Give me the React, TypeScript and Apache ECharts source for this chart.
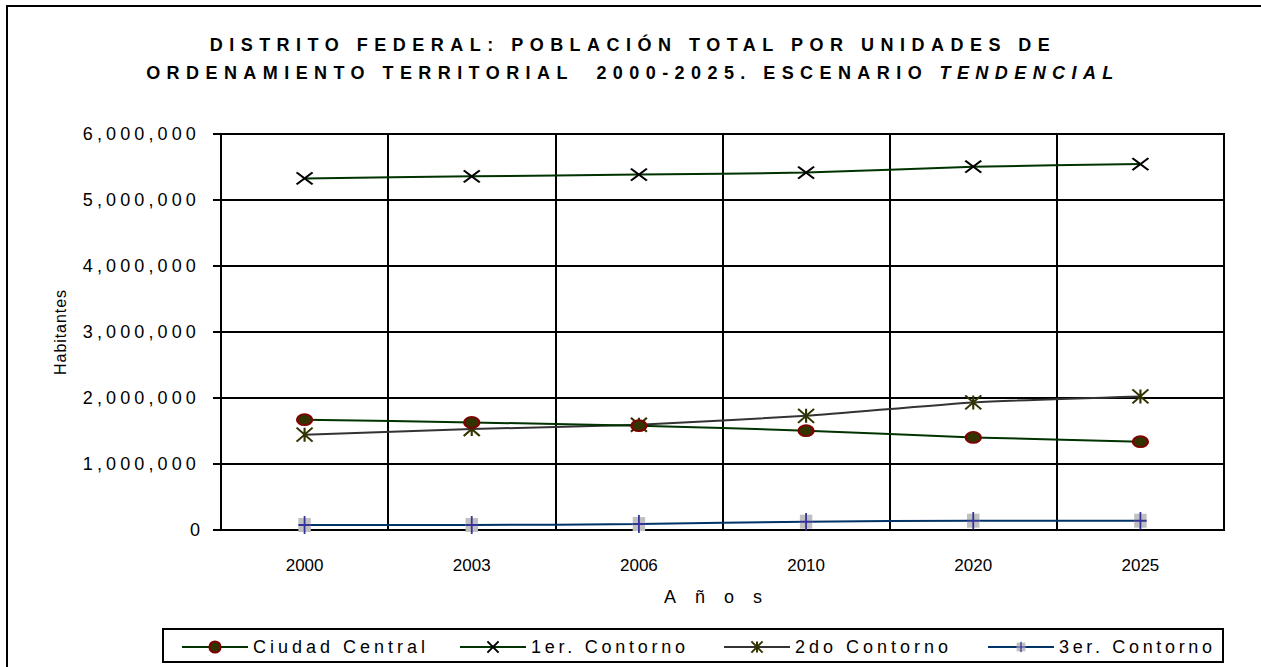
import React, { useEffect, useRef } from 'react';
import * as echarts from 'echarts';

// ---------- data ----------
const years = ['2000', '2003', '2006', '2010', '2020', '2025'];
const ciudadCentral = [1671000, 1630000, 1580000, 1505000, 1403000, 1338000];
const primerContorno = [5327000, 5358000, 5385000, 5415000, 5505000, 5545000];
const segundoContorno = [1444000, 1530000, 1595000, 1730000, 1933000, 2024000];
const tercerContorno = [76000, 76000, 90000, 126000, 141000, 141000];
const seriesNames = ['Ciudad Central', '1er. Contorno', '2do Contorno', '3er. Contorno'];
const yMin = 0;
const yMax = 6000000;
const yInterval = 1000000;
const yTickLabels = ['0', '1,000,000', '2,000,000', '3,000,000', '4,000,000', '5,000,000', '6,000,000'];
const titleLine1 = 'DISTRITO FEDERAL: POBLACIÓN TOTAL POR UNIDADES DE';
const titleLine2 = 'ORDENAMIENTO TERRITORIAL  2000-2025. ESCENARIO ';
const titleItalic = 'TENDENCIAL';
const xAxisName = 'Años';
const yAxisName = 'Habitantes';

// ---------- styling ----------
const FONT = '"Liberation Sans", Arial, sans-serif';
const fullLine2 = titleLine2 + titleItalic;

// visible widths (px) that each text is spread to, as in the reference
const FIT: Record<string, number> = {
  [titleLine1]: 840,
  [fullLine2]: 967,
  [xAxisName]: 98,
  [yAxisName]: 85,
  'Ciudad Central': 172,
  '1er. Contorno': 154,
  '2do Contorno': 153,
  '3er. Contorno': 153,
};
yTickLabels.forEach((l) => { if (l.length > 1) FIT[l] = 113; });

const ellipseSymbol = 'path://M0,5.5A7.5,5.5 0 1 1 15,5.5A7.5,5.5 0 1 1 0,5.5Z';
const xSymbol = 'path://M0,0L16,12M16,0L0,12';
const starSymbol = 'path://M0,0L16,14M16,0L0,14M8,0L8,14';
const plusSvg =
  "<svg xmlns='http://www.w3.org/2000/svg' width='16' height='18' viewBox='0 0 16 18'>" +
  "<rect x='1' y='2' width='14' height='14' fill='#c0c0c0'/>" +
  "<path d='M8 0V18M1 9H15' stroke='#333399' stroke-width='2'/></svg>";
const plusSymbol = 'image://data:image/svg+xml;charset=utf-8,' + encodeURIComponent(plusSvg);

function adjustTexts(root: HTMLElement) {
  root.querySelectorAll('text').forEach((node) => {
    const t = node as SVGTextElement;
    const content = t.textContent || '';
    if (content === fullLine2 && !t.querySelector('tspan.it')) {
      t.textContent = '';
      t.appendChild(document.createTextNode(titleLine2));
      const sp = document.createElementNS('http://www.w3.org/2000/svg', 'tspan');
      sp.setAttribute('class', 'it');
      sp.setAttribute('font-style', 'italic');
      (sp as any).style.fontStyle = 'italic';
      sp.textContent = titleItalic;
      t.appendChild(sp);
    }
    const target = FIT[content];
    if (target == null) return;
    t.style.whiteSpace = 'pre';
    t.style.letterSpacing = '0px';
    const nat = t.getComputedTextLength();
    const n = Array.from(content).length;
    if (n < 2) return;
    const s = (target - nat) / (n - 1);
    t.style.letterSpacing = s.toFixed(2) + 'px';
  });
}

function makeLegend(name: string, left: number) {
  return {
    data: [name],
    left,
    top: 638,
    padding: 0,
    itemWidth: 66,
    itemHeight: 14,
    itemGap: 0,
    selectedMode: false,
    textStyle: { color: '#000', fontSize: 18, fontFamily: FONT, padding: [0, 0, 0, 0] },
  };
}

export default function App() {
  const ref = useRef<HTMLDivElement>(null);
  useEffect(() => {
    const el = ref.current!;
    const chart = echarts.init(el, null, { renderer: 'svg' });
    const option: any = {
      animation: false,
      backgroundColor: '#fff',
      grid: {
        left: 221,
        right: 37,
        top: 134,
        bottom: 137,
        show: true,
        borderColor: '#000',
        borderWidth: 2,
      },
      legend: [
        makeLegend(seriesNames[0], 181),
        makeLegend(seriesNames[1], 459),
        makeLegend(seriesNames[2], 723),
        makeLegend(seriesNames[3], 987),
      ],
      graphic: [
        {
          type: 'rect',
          shape: { x: 7, y: 6, width: 1300, height: 720 },
          style: { fill: 'none', stroke: '#000', lineWidth: 2 },
          silent: true,
        },
        {
          type: 'rect',
          shape: { x: 163, y: 629, width: 1060, height: 33 },
          style: { fill: 'none', stroke: '#000', lineWidth: 2 },
          silent: true,
        },
        {
          type: 'text',
          x: 633,
          y: 45,
          style: {
            text: titleLine1,
            font: 'bold 18px ' + FONT,
            fill: '#000',
            align: 'center',
            textAlign: 'center',
            verticalAlign: 'middle',
            textVerticalAlign: 'middle',
          },
        },
        {
          type: 'text',
          x: 633,
          y: 73,
          style: {
            text: fullLine2,
            font: 'bold 18px ' + FONT,
            fill: '#000',
            align: 'center',
            textAlign: 'center',
            verticalAlign: 'middle',
            textVerticalAlign: 'middle',
          },
        },
      ],
      xAxis: {
        type: 'category',
        data: years,
        boundaryGap: true,
        axisLine: { lineStyle: { color: '#000', width: 2 } },
        axisTick: { show: false },
        axisLabel: { color: '#000', fontSize: 17, fontFamily: FONT, margin: 27 },
        splitLine: { show: true, lineStyle: { color: '#000', width: 2 } },
        name: xAxisName,
        nameLocation: 'middle',
        nameGap: 58,
        nameTextStyle: { color: '#000', fontSize: 18, fontFamily: FONT },
      },
      yAxis: {
        type: 'value',
        min: yMin,
        max: yMax,
        interval: yInterval,
        axisLine: { show: true, lineStyle: { color: '#000', width: 2 } },
        axisTick: { show: true, length: 8, lineStyle: { color: '#000', width: 2 } },
        axisLabel: {
          color: '#000',
          fontSize: 18,
          fontFamily: FONT,
          margin: 21,
          formatter: (v: number) => yTickLabels[Math.round((v - yMin) / yInterval)] ?? String(v),
        },
        splitLine: { show: true, lineStyle: { color: '#000', width: 2 } },
        name: yAxisName,
        nameLocation: 'middle',
        nameGap: 153,
        nameRotate: 90,
        nameTextStyle: { color: '#000', fontSize: 16, fontFamily: FONT },
      },
      series: [
        {
          name: seriesNames[0],
          type: 'line',
          data: ciudadCentral,
          smooth: 0.2,
          symbol: ellipseSymbol,
          symbolSize: [15, 11],
          lineStyle: { color: '#003300', width: 2 },
          itemStyle: { color: '#333300', borderColor: '#800000', borderWidth: 2 },
          z: 4,
        },
        {
          name: seriesNames[1],
          type: 'line',
          data: primerContorno,
          smooth: 0.2,
          symbol: xSymbol,
          symbolSize: [16, 12],
          lineStyle: { color: '#003300', width: 2 },
          itemStyle: { color: 'none', borderColor: '#000', borderWidth: 2 },
          z: 3,
        },
        {
          name: seriesNames[2],
          type: 'line',
          data: segundoContorno,
          smooth: 0.2,
          symbol: starSymbol,
          symbolSize: [16, 14],
          lineStyle: { color: '#333333', width: 2 },
          itemStyle: { color: 'none', borderColor: '#333300', borderWidth: 2 },
          z: 3,
        },
        {
          name: seriesNames[3],
          type: 'line',
          data: tercerContorno,
          smooth: 0.2,
          symbol: plusSymbol,
          symbolSize: [16, 18],
          lineStyle: { color: '#003366', width: 2 },
          itemStyle: { color: '#003366' },
          z: 3,
        },
      ],
    };
    chart.setOption(option);
    const apply = () => adjustTexts(el);
    apply();
    const t1 = setTimeout(apply, 50);
    const t2 = setTimeout(apply, 400);
    const fonts = (document as any).fonts;
    if (fonts && fonts.ready) fonts.ready.then(apply);
    return () => {
      clearTimeout(t1);
      clearTimeout(t2);
      chart.dispose();
    };
  }, []);
  return (
    <div
      ref={ref}
      style={{ position: 'fixed', left: 0, top: 0, width: 1261, height: 667, background: '#fff' }}
    />
  );
}
